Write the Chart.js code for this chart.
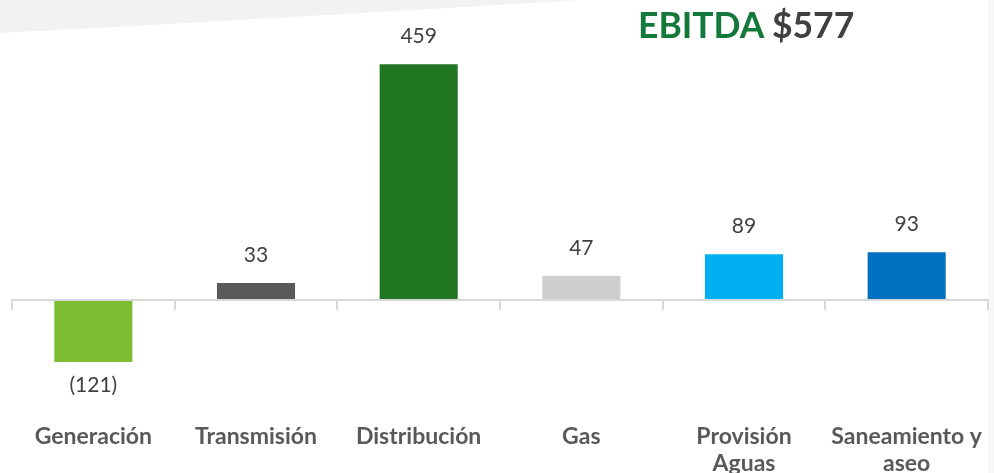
<!DOCTYPE html>
<html>
<head>
<meta charset="utf-8">
<script src="https://cdn.jsdelivr.net/npm/chart.js@4.4.1/dist/chart.umd.min.js"></script>
<style>
  html, body { margin: 0; padding: 0; background: #fff; }
  #contenedor { position: relative; width: 994px; height: 473px; }
  #titulo {
    position: absolute; left: 638px; top: 3px;
    font-family: Lato, sans-serif; font-weight: bold; font-size: 35.5px;
    color: #404040; white-space: nowrap;
  }
  #titulo span { color: #13793b; }
</style>
</head>
<body>
<div id="contenedor">
  <canvas id="grafico" width="994" height="473"></canvas>
  <div id="titulo"><span>EBITDA</span> $577</div>
</div>
<script>
// datos del grafico
const categorias = ['Generación', 'Transmisión', 'Distribución', 'Gas', ['Provisión', 'Aguas'], ['Saneamiento y', 'aseo']];
const valores = [-121, 33, 459, 47, 89, 93];
const etiquetas = ['(121)', '33', '459', '47', '89', '93'];
const colores = ['#7cbd33', '#595959', '#207520', '#d0cece', '#00b0f0', '#0070c0'];

//fondo gris de arriba a la izquierda
const fondo = {
    id: 'fondo',
    beforeDraw(chart) {
        const ctx = chart.ctx;
        ctx.save();
        ctx.fillStyle = '#f2f2f2';
        ctx.beginPath();
        ctx.moveTo(0, 0);
        ctx.lineTo(0, 33);
        ctx.quadraticCurveTo(250, 20, 580, 0);
        ctx.closePath();
        ctx.fill();
        ctx.fillStyle = '#f7f7f7';
        ctx.fillRect(988, 0, 6, 473);
        ctx.restore();
    }
};

//linea del cero con las marquitas entre categorias
const ejeCero = {
    id: 'ejeCero',
    afterDatasetsDraw(chart) {
        const ctx = chart.ctx;
        const x = chart.scales.x;
        const y0 = chart.scales.y.getPixelForValue(0);
        ctx.save();
        ctx.strokeStyle = '#d9d9d9';
        ctx.lineWidth = 2;
        ctx.beginPath();
        ctx.moveTo(x.getPixelForValue(-0.5), y0);
        ctx.lineTo(x.getPixelForValue(categorias.length - 0.5), y0);
        for (let i = 0; i <= categorias.length; i++) {
            const px = Math.round(x.getPixelForValue(i - 0.5));
            ctx.moveTo(px, y0);
            ctx.lineTo(px, y0 + 10);
        }
        ctx.stroke();
        ctx.restore();
    }
};

//etiquetas de valor encima o debajo de cada barra
const valoresBarras = {
    id: 'valoresBarras',
    afterDatasetsDraw(chart) {
        const ctx = chart.ctx;
        const meta = chart.getDatasetMeta(0);
        ctx.save();
        ctx.font = '21px Lato';
        ctx.fillStyle = '#404040';
        ctx.textAlign = 'center';
        ctx.textBaseline = 'middle';
        meta.data.forEach((barra, i) => {
            const desplaz = valores[i] < 0 ? 23 : -28;
            ctx.fillText(etiquetas[i], barra.x, barra.y + desplaz);
        });
        ctx.restore();
    }
};

const canvasGrafico = document.getElementById('grafico');
new Chart(canvasGrafico, {
    type: 'bar',
    data: {
        labels: categorias,
        datasets: [{
            data: valores,
            backgroundColor: colores,
            borderWidth: 0,
            barPercentage: 0.48,
            categoryPercentage: 1
        }]
    },
    options: {
        responsive: false,
        animation: false,
        layout: { padding: { left: 12, right: 6, top: 10, bottom: -4 } },
        plugins: { legend: { display: false }, tooltip: { enabled: false } },
        scales: {
            x: {
                grid: { display: false, drawTicks: false },
                border: { display: false },
                ticks: {
                    padding: 0,
                    color: '#595959',
                    font: { family: 'Lato', weight: 'bold', size: 23, lineHeight: 1.17 },
                    maxRotation: 0,
                    autoSkip: false
                }
            },
            y: {
                display: false,
                min: -240,
                max: 564.5
            }
        }
    },
    plugins: [fondo, ejeCero, valoresBarras]
});
</script>
</body>
</html>
